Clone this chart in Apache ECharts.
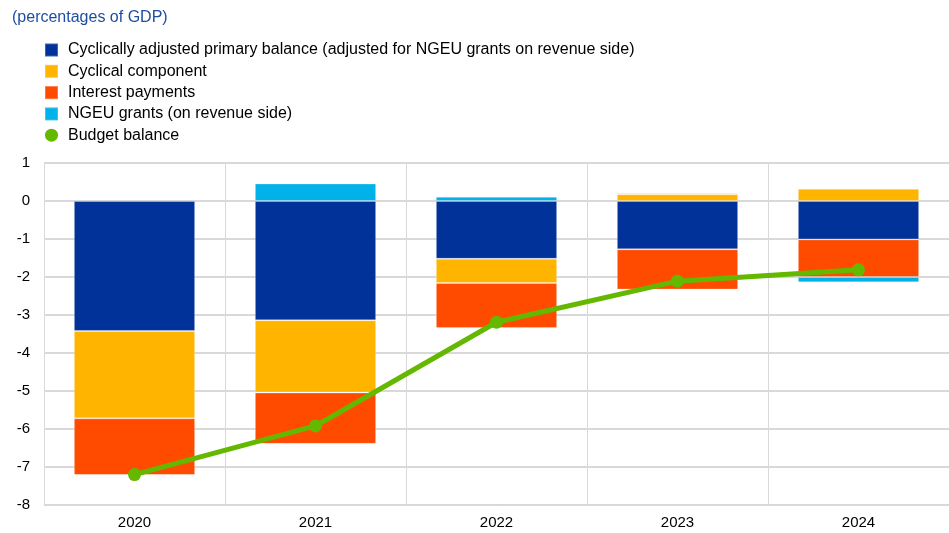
<!DOCTYPE html>
<html>
<head>
<meta charset="utf-8">
<script src="https://cdn.jsdelivr.net/npm/echarts@6/dist/echarts.min.js"></script>
<style>html,body{margin:0;padding:0;background:#fff}#c{width:949px;height:533px}</style>
</head>
<body>
<div id="c"></div>
<script>
var categories = ['2020', '2021', '2022', '2023', '2024'];
var cyclicallyAdjustedPrimary = [-3.42, -3.14, -1.52, -1.27, -1.01];
var cyclicalComponent = [-2.30, -1.90, -0.64, 0.18, 0.32];
var interestPayments = [-1.49, -1.35, -1.18, -1.06, -0.99];
var ngeuGrants = [0.0, 0.46, 0.11, 0.03, -0.14];
var budgetBalance = [-7.20, -5.92, -3.19, -2.11, -1.81];
var yTicks = { min: -8, max: 1, interval: 1 };

var FONT = "'Liberation Sans', Arial, sans-serif";
var chart = echarts.init(document.getElementById('c'));
var border = { borderColor: 'rgba(255,255,255,0.25)', borderWidth: 1 };
function bar(name, data, color) {
  return { name: name, type: 'bar', stack: 'a', data: data, barWidth: '67%',
    itemStyle: Object.assign({ color: color }, border) };
}
chart.setOption({
  animation: false,
  textStyle: { fontFamily: FONT },
  title: { text: '(percentages of GDP)', left: 12, top: 10, padding: 0,
    textStyle: { color: '#1f4ea1', fontSize: 16, fontWeight: 'normal', fontFamily: FONT } },
  legend: {
    orient: 'vertical', left: 44, top: 42, padding: 0, itemWidth: 13, itemHeight: 13, itemGap: 5.3,
    textStyle: { fontSize: 16, color: '#000', fontFamily: FONT, padding: [0, 0, 0, 5] },
    data: [
      { name: 'Cyclically adjusted primary balance (adjusted for NGEU grants on revenue side)', icon: 'rect' },
      { name: 'Cyclical component', icon: 'rect' },
      { name: 'Interest payments', icon: 'rect' },
      { name: 'NGEU grants (on revenue side)', icon: 'rect' },
      { name: 'Budget balance', icon: 'circle' }
    ]
  },
  grid: { left: 44, right: 0, top: 163, bottom: 28, containLabel: false },
  xAxis: {
    type: 'category', data: categories,
    axisLine: { onZero: false, lineStyle: { color: '#d9d9d9', width: 1 } },
    axisTick: { show: false },
    splitLine: { show: true, lineStyle: { color: '#d9d9d9', width: 1 } },
    axisLabel: { color: '#000', fontSize: 15, margin: 10, fontFamily: FONT }
  },
  yAxis: {
    type: 'value', min: yTicks.min, max: yTicks.max, interval: yTicks.interval,
    axisLine: { show: false }, axisTick: { show: false },
    splitLine: { lineStyle: { color: '#d9d9d9', width: 2 } },
    axisLabel: { color: '#000', fontSize: 15, margin: 14, fontFamily: FONT }
  },
  series: [
    bar('Cyclically adjusted primary balance (adjusted for NGEU grants on revenue side)', cyclicallyAdjustedPrimary, '#003299'),
    bar('Cyclical component', cyclicalComponent, '#ffb400'),
    bar('Interest payments', interestPayments, '#ff4b00'),
    bar('NGEU grants (on revenue side)', ngeuGrants, '#00b1ea'),
    { name: 'Budget balance', type: 'line', data: budgetBalance, symbol: 'circle', symbolSize: 13,
      lineStyle: { color: '#65b800', width: 5 }, itemStyle: { color: '#65b800' }, z: 10 }
  ]
});
</script>
</body>
</html>
